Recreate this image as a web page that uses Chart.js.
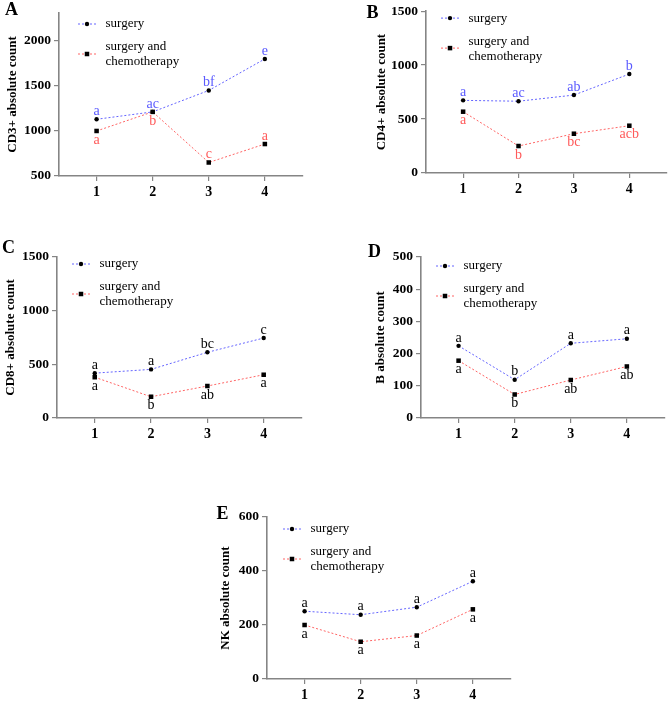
<!DOCTYPE html>
<html>
<head>
<meta charset="utf-8">
<script src="https://cdn.jsdelivr.net/npm/chart.js@4.4.1/dist/chart.umd.min.js"></script>
<style>
  body { margin: 0; background: #fff; width: 671px; height: 701px; position: relative; overflow: hidden; }
  .panel { position: absolute; }
</style>
</head>
<body>
<div class="panel" style="left:0px;top:0px;width:320px;height:210px"><canvas id="chartA"></canvas></div>
<div class="panel" style="left:360px;top:0px;width:311px;height:207px"><canvas id="chartB"></canvas></div>
<div class="panel" style="left:0px;top:235px;width:320px;height:217px"><canvas id="chartC"></canvas></div>
<div class="panel" style="left:360px;top:235px;width:311px;height:217px"><canvas id="chartD"></canvas></div>
<div class="panel" style="left:200px;top:490px;width:328px;height:211px"><canvas id="chartE"></canvas></div>
<script>
// time points on the x axis
var timepoints = [1, 2, 3, 4];

// A: CD3+
var cd3Surgery = [1130, 1212, 1450, 1800];
var cd3Chemo = [1000, 1212, 650, 855];
var cd3SurgeryTags = ['a', 'ac', 'bf', 'e'];
var cd3ChemoTags = ['a', 'b', 'c', 'a'];
var cd3ChemoSides = ['below', 'below', 'above', 'above'];
var cd3Ticks = [500, 1000, 1500, 2000];

// B: CD4+
var cd4Surgery = [673, 665, 722, 917];
var cd4Chemo = [568, 250, 364, 438];
var cd4SurgeryTags = ['a', 'ac', 'ab', 'b'];
var cd4ChemoTags = ['a', 'b', 'bc', 'acb'];
var cd4Ticks = [0, 500, 1000, 1500];

// C: CD8+
var cd8Surgery = [418, 453, 612, 745];
var cd8Chemo = [380, 198, 298, 403];
var cd8SurgeryTags = ['a', 'a', 'bc', 'c'];
var cd8ChemoTags = ['a', 'b', 'ab', 'a'];
var cd8Ticks = [0, 500, 1000, 1500];

// D: B cells
var bSurgery = [224, 119, 232, 246];
var bChemo = [178, 73, 118, 160];
var bSurgeryTags = ['a', 'b', 'a', 'a'];
var bChemoTags = ['a', 'b', 'ab', 'ab'];
var bTicks = [0, 100, 200, 300, 400, 500];

// E: NK cells
var nkSurgery = [251, 238, 266, 362];
var nkChemo = [200, 138, 161, 258];
var nkSurgeryTags = ['a', 'a', 'a', 'a'];
var nkChemoTags = ['a', 'a', 'a', 'a'];
var nkTicks = [0, 200, 400, 600];

var seriesNames = ['surgery', 'surgery and', 'chemotherapy'];

var SERIF = "'Liberation Serif', 'Times New Roman', serif";
var BLUE = '#6464ff';
var RED = '#ff6464';
var AXIS = '#858585';

function toPoints(values) {
  return values.map(function (v, i) {
    return {x: timepoints[i], y: v};
  });
}

function makePanel(id, p) {
  var decoPlugin = {
    id: 'deco' + p.letter,
    afterDatasetsDraw: function (chart) {
      var ctx = chart.ctx;
      var area = chart.chartArea;
      ctx.save();

      // significance letters
      ctx.font = '14px ' + SERIF;
      ctx.textAlign = 'center';
      ctx.textBaseline = 'middle';
      chart.data.datasets.forEach(function (ds, di) {
        var meta = chart.getDatasetMeta(di);
        ds.tags.forEach(function (t, i) {
          var pt = meta.data[i];
          var side = ds.sides ? ds.sides[i] : (di === 0 ? 'above' : 'below');
          ctx.fillStyle = p.colouredTags ? ds.tagColor : '#000';
          ctx.fillText(t, pt.x, side === 'above' ? pt.y - 8 : pt.y + 9);
        });
      });

      // legend inside plot
      var mx = area.left + p.legend[0];
      var my = area.top + p.legend[1];
      function legendRow(y, colour, square) {
        ctx.strokeStyle = colour;
        ctx.lineWidth = 1;
        ctx.setLineDash([2, 2]);
        ctx.beginPath();
        ctx.moveTo(mx - 9, y);
        ctx.lineTo(mx + 9, y);
        ctx.stroke();
        ctx.setLineDash([]);
        ctx.fillStyle = '#000';
        if (square) {
          ctx.fillRect(mx - 2.25, y - 2.25, 4.5, 4.5);
        } else {
          ctx.beginPath();
          ctx.arc(mx, y, 2.2, 0, Math.PI * 2);
          ctx.fill();
        }
      }
      legendRow(my, BLUE, false);
      legendRow(my + 30, RED, true);
      ctx.font = '13px ' + SERIF;
      ctx.textAlign = 'left';
      ctx.fillStyle = '#000';
      ctx.fillText(seriesNames[0], mx + 18.5, my);
      ctx.fillText(seriesNames[1], mx + 18.5, my + 23);
      ctx.fillText(seriesNames[2], mx + 18.5, my + 38);

      // panel letter
      ctx.font = 'bold 18px ' + SERIF;
      ctx.textAlign = 'center';
      ctx.fillText(p.letter, p.letterPos[0], p.letterPos[1]);
      ctx.restore();
    }
  };

  var lineStyle = {
    borderWidth: 1,
    borderDash: [2, 2],
    fill: false,
    tension: 0,
    pointBackgroundColor: '#000',
    pointBorderColor: '#000',
    pointBorderWidth: 0
  };

  return new Chart(id, {
    type: 'line',
    data: {
      datasets: [
        Object.assign({
          label: 'surgery',
          data: toPoints(p.surgery),
          borderColor: BLUE,
          pointStyle: 'circle',
          pointRadius: 2.2,
          tags: p.surgeryTags,
          tagColor: '#5a5aff'
        }, lineStyle),
        Object.assign({
          label: 'surgery and chemotherapy',
          data: toPoints(p.chemo),
          borderColor: RED,
          pointStyle: 'rect',
          pointRadius: 3.2,
          tags: p.chemoTags,
          sides: p.chemoSides,
          tagColor: '#ff5a5a'
        }, lineStyle)
      ]
    },
    options: {
      animation: false,
      responsive: true,
      maintainAspectRatio: false,
      layout: {padding: {top: p.padTop, right: p.padRight, left: 0, bottom: 0}},
      plugins: {legend: {display: false}, tooltip: {enabled: false}},
      scales: {
        x: {
          type: 'linear',
          min: 0.33,
          max: 4.68,
          afterBuildTicks: function (scale) {
            scale.ticks = timepoints.map(function (v) { return {value: v}; });
          },
          afterFit: function (scale) { scale.height = p.xHeight; },
          grid: {drawOnChartArea: false, drawTicks: true, tickLength: 5, color: AXIS, lineWidth: 1.2},
          border: {display: true, color: AXIS, width: 1.6},
          ticks: {
            color: '#000', padding: 3,
            font: {family: SERIF, size: 14, weight: 'bold'},
            callback: function (v) { return String(v); }
          }
        },
        y: {
          min: p.yTicks[0],
          max: p.yMax,
          afterBuildTicks: function (scale) {
            scale.ticks = p.yTicks.map(function (v) { return {value: v}; });
          },
          afterFit: function (scale) { scale.width = p.yWidth; },
          grid: {drawOnChartArea: false, drawTicks: true, tickLength: 5, color: AXIS, lineWidth: 1.2},
          border: {display: true, color: AXIS, width: 1.6},
          ticks: {
            color: '#000', padding: 3,
            font: {family: SERIF, size: 13.5, weight: 'bold'},
            callback: function (v) { return String(v); }
          },
          title: {
            display: true,
            text: p.yTitle,
            color: '#000',
            padding: {top: p.titlePad, bottom: 0},
            font: {family: SERIF, size: 13, weight: 'bold'}
          }
        }
      }
    },
    plugins: [decoPlugin]
  });
}

makePanel('chartA', {
  letter: 'A', letterPos: [11.5, 10],
  surgery: cd3Surgery, chemo: cd3Chemo,
  surgeryTags: cd3SurgeryTags, chemoTags: cd3ChemoTags, chemoSides: cd3ChemoSides,
  yTicks: cd3Ticks, yMax: 2310, yTitle: 'CD3+ absolute count',
  colouredTags: true,
  yWidth: 59, xHeight: 34, padTop: 13, padRight: 17, titlePad: 5,
  legend: [28, 11]
});

makePanel('chartB', {
  letter: 'B', letterPos: [12.5, 13.5],
  surgery: cd4Surgery, chemo: cd4Chemo,
  surgeryTags: cd4SurgeryTags, chemoTags: cd4ChemoTags,
  yTicks: cd4Ticks, yMax: 1500, yTitle: 'CD4+ absolute count',
  colouredTags: true,
  yWidth: 66, xHeight: 34, padTop: 11, padRight: 2, titlePad: 14,
  legend: [24, 7]
});

makePanel('chartC', {
  letter: 'C', letterPos: [8.5, 13.5],
  surgery: cd8Surgery, chemo: cd8Chemo,
  surgeryTags: cd8SurgeryTags, chemoTags: cd8ChemoTags,
  yTicks: cd8Ticks, yMax: 1500, yTitle: 'CD8+ absolute count',
  colouredTags: false,
  yWidth: 57, xHeight: 34, padTop: 22, padRight: 18, titlePad: 2.5,
  legend: [24, 7]
});

makePanel('chartD', {
  letter: 'D', letterPos: [14.5, 17],
  surgery: bSurgery, chemo: bChemo,
  surgeryTags: bSurgeryTags, chemoTags: bChemoTags,
  yTicks: bTicks, yMax: 500, yTitle: 'B absolute count',
  colouredTags: false,
  yWidth: 61, xHeight: 34, padTop: 22, padRight: 6, titlePad: 13,
  legend: [24, 9]
});

makePanel('chartE', {
  letter: 'E', letterPos: [22.5, 24],
  surgery: nkSurgery, chemo: nkChemo,
  surgeryTags: nkSurgeryTags, chemoTags: nkChemoTags,
  yTicks: nkTicks, yMax: 600, yTitle: 'NK absolute count',
  colouredTags: false,
  yWidth: 67, xHeight: 22, padTop: 27, padRight: 17, titlePad: 18,
  legend: [25, 12]
});
</script>
</body>
</html>
